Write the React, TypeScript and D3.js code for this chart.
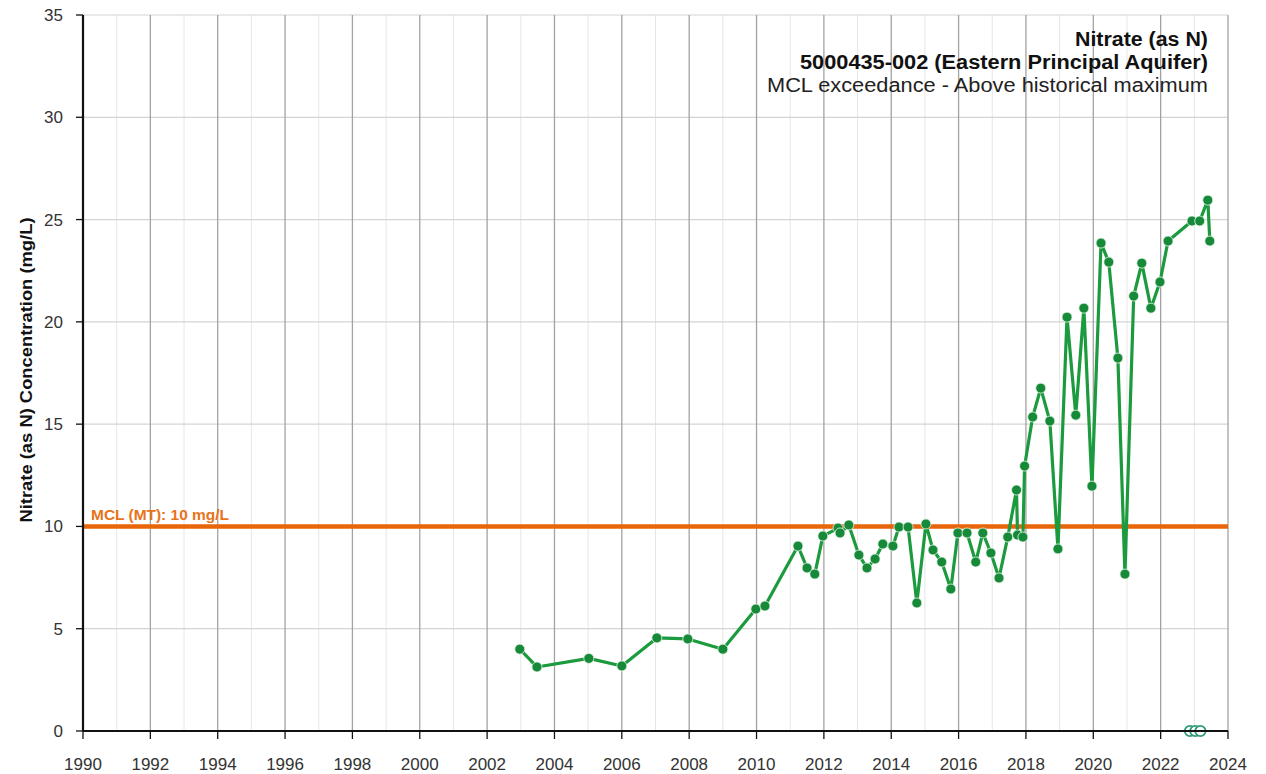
import React from "react";
import * as d3 from "d3";

// sample dates (decimal years) and nitrate results (mg/L)
const sampleYears = [
  2002.97, 2003.48, 2005.02, 2006.0, 2007.04, 2007.96, 2009.0, 2009.98, 2010.25,
  2011.23, 2011.5, 2011.73, 2011.97, 2012.42, 2012.48, 2012.74, 2013.04, 2013.28,
  2013.52, 2013.75, 2014.05, 2014.23, 2014.5, 2014.76, 2015.03, 2015.24, 2015.5,
  2015.77, 2015.98, 2016.25, 2016.51, 2016.72, 2016.96, 2017.2, 2017.46, 2017.72,
  2017.75, 2017.91, 2017.96, 2018.2, 2018.44, 2018.71, 2018.95, 2019.22, 2019.48,
  2019.72, 2019.96, 2020.23, 2020.46, 2020.73, 2020.94, 2021.2, 2021.44, 2021.71,
  2021.98, 2022.22, 2022.93, 2023.16, 2023.4, 2023.46,
];
const nitrateValues = [
  4.0, 3.13, 3.55, 3.18, 4.55, 4.5, 4.0, 5.96, 6.11,
  9.04, 7.97, 7.67, 9.53, 9.92, 9.68, 10.07, 8.6, 7.97,
  8.41, 9.14, 9.04, 9.97, 9.97, 6.26, 10.12, 8.85, 8.26,
  6.94, 9.68, 9.68, 8.26, 9.68, 8.7, 7.48, 9.48, 11.78,
  9.58, 9.48, 12.95, 15.35, 16.76, 15.15, 8.9, 20.23, 15.44,
  20.67, 11.97, 23.85, 22.92, 18.23, 7.67, 21.26, 22.87, 20.67,
  21.95, 23.95, 24.93, 24.93, 25.95, 23.95,
];
// non-detect samples plotted at zero
const nonDetectYears = [2022.87, 2023.03, 2023.18];
const nonDetectValues = [0, 0, 0];

const xTicks = d3.range(1990, 2025, 2);
const yTicks = [0, 5, 10, 15, 20, 25, 30, 35];
const mclValue = 10;
const mclLabel = "MCL (MT): 10 mg/L";
const titleLines = [
  "Nitrate (as N)",
  "5000435-002 (Eastern Principal Aquifer)",
  "MCL exceedance - Above historical maximum",
];
const yLabel = "Nitrate (as N) Concentration (mg/L)";

const W = 1266;
const H = 774;
const left = 83;
const right = 1228;
const top = 15;
const bottom = 731;

// widths of the title lines as measured on the original
const titleWidths = [133, 408, 441];
const titleBase = [46, 69, 92];

const App = () => {
  const x = d3.scaleLinear().domain([1990, 2024]).range([left, right]);
  const y = d3.scaleLinear().domain([0, 35]).range([bottom, top]);

  const points = sampleYears.map((yr, i) => [yr, nitrateValues[i]]);
  const line = d3
    .line()
    .x((d) => x(d[0]))
    .y((d) => y(d[1]));

  const oddYears = d3.range(1991, 2024, 2);
  const font = "Arial, 'Liberation Sans', sans-serif";

  return (
    <svg
      width={W}
      height={H}
      style={{ position: "absolute", left: 0, top: 0, background: "#fff" }}
      fontFamily={font}
    >
      {/* minor vertical grid */}
      {oddYears.map((yr) => (
        <line key={"m" + yr} x1={x(yr)} x2={x(yr)} y1={top} y2={bottom} stroke="#e6e6e6" strokeWidth={1} />
      ))}
      {/* horizontal grid */}
      {yTicks.map((v) => (
        <line key={"h" + v} x1={left} x2={right} y1={y(v)} y2={y(v)} stroke="#d4d4d4" strokeWidth={1.2} />
      ))}
      {/* major vertical grid */}
      {xTicks.map((yr) => (
        <line key={"v" + yr} x1={x(yr)} x2={x(yr)} y1={top} y2={bottom} stroke="#a3a3a3" strokeWidth={1.3} />
      ))}

      {/* title */}
      {titleLines.map((t, i) => (
        <text
          key={t}
          x={1208}
          y={titleBase[i]}
          textAnchor="end"
          fontSize={19.5}
          fontWeight={i < 2 ? "bold" : "normal"}
          fill={i < 2 ? "#111" : "#222"}
          textLength={titleWidths[i]}
          lengthAdjust="spacingAndGlyphs"
        >
          {t}
        </text>
      ))}

      {/* MCL */}
      <line x1={left} x2={right} y1={y(mclValue)} y2={y(mclValue)} stroke="#e8650a" strokeWidth={4.5} />
      <text
        x={91}
        y={520}
        fontSize={14}
        fontWeight="bold"
        fill="#e8731a"
        textLength={138}
        lengthAdjust="spacingAndGlyphs"
      >
        {mclLabel}
      </text>

      {/* series */}
      <path d={line(points) || ""} fill="none" stroke="#1b9a3e" strokeWidth={3.2} strokeLinejoin="round" />
      {points.map((d, i) => (
        <circle key={"p" + i} cx={x(d[0])} cy={y(d[1])} r={5} fill="#168a38" stroke="#e8f5ea" strokeWidth={0.8} />
      ))}
      {nonDetectYears.map((yr, i) => (
        <circle
          key={"n" + i}
          cx={x(yr)}
          cy={y(nonDetectValues[i])}
          r={5.2}
          fill="#fff"
          stroke="#2f9a78"
          strokeWidth={1.8}
        />
      ))}

      {/* axes */}
      <line x1={left} x2={left} y1={top} y2={bottom} stroke="#111" strokeWidth={2.2} />
      <line x1={left} x2={right} y1={bottom} y2={bottom} stroke="#111" strokeWidth={2.2} />
      {yTicks.map((v) => (
        <g key={"yt" + v}>
          <line x1={left - 7} x2={left} y1={y(v)} y2={y(v)} stroke="#111" strokeWidth={1.3} />
          <text x={63} y={y(v) + 6} textAnchor="end" fontSize={17} fill="#333">
            {v}
          </text>
        </g>
      ))}
      {xTicks.map((yr) => (
        <g key={"xt" + yr}>
          <line x1={x(yr)} x2={x(yr)} y1={bottom} y2={bottom + 8} stroke="#111" strokeWidth={1.3} />
          <text x={x(yr)} y={770} textAnchor="middle" fontSize={17} fill="#333">
            {yr}
          </text>
        </g>
      ))}

      <text
        transform={`translate(32, 370) rotate(-90)`}
        textAnchor="middle"
        fontSize={16}
        fontWeight="bold"
        fill="#111"
        textLength={305}
        lengthAdjust="spacingAndGlyphs"
      >
        {yLabel}
      </text>
    </svg>
  );
};

export default App;
